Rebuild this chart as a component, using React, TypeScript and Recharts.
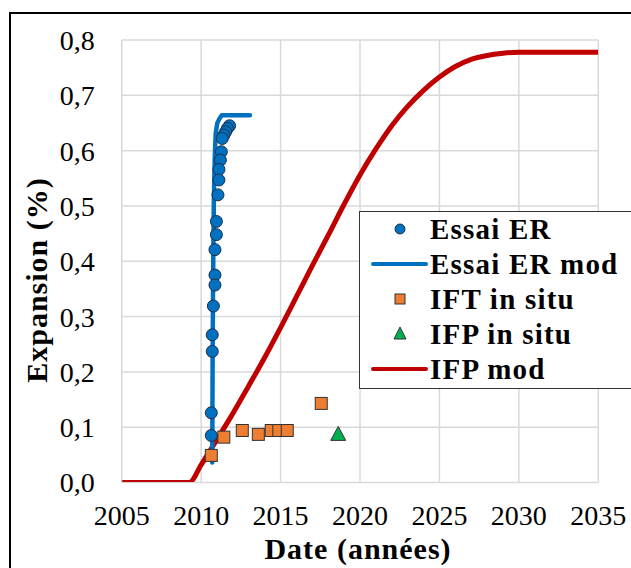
import { ComposedChart, Line, Scatter, XAxis, YAxis, CartesianGrid } from "recharts";

// Essai ER (lab test points)
const erYears = [2011.79, 2011.65, 2011.54, 2011.43, 2011.33, 2011.27, 2011.21, 2011.12, 2011.12, 2011.06,
    2010.96, 2010.96, 2010.87, 2010.87, 2010.87, 2010.77, 2010.7, 2010.7, 2010.64, 2010.64];
const erValues = [0.645, 0.64, 0.634, 0.628, 0.622, 0.598, 0.583, 0.566, 0.547, 0.52,
    0.472, 0.448, 0.421, 0.375, 0.357, 0.319, 0.267, 0.237, 0.126, 0.085];

// Essai ER mod (model curve)
const erModYears = [2010.7, 2010.72, 2010.75, 2010.8, 2010.86, 2010.92, 2011.02, 2011.16, 2011.3, 2013.07];
const erModValues = [0.036, 0.2, 0.36, 0.51, 0.59, 0.632, 0.65, 0.658, 0.664, 0.664];

// IFT in situ
const iftYears = [2010.64, 2011.43, 2012.59, 2013.6, 2014.41, 2014.89, 2015.42, 2017.56];
const iftValues = [0.049, 0.082, 0.094, 0.087, 0.094, 0.094, 0.094, 0.143];

// IFP in situ
const ifpYears = [2018.63];
const ifpValues = [0.087];

// IFP mod
const ifpModYears = [2005, 2009.25, 2010, 2011, 2012, 2013, 2014, 2015, 2016, 2017, 2018, 2019, 2020,
    2021, 2022, 2023, 2024, 2025, 2026, 2027, 2028, 2029, 2030, 2035];
const ifpModValues = [0, 0, 0.032, 0.078, 0.125, 0.175, 0.226, 0.28, 0.336, 0.392, 0.447, 0.503, 0.556,
    0.603, 0.645, 0.68, 0.709, 0.733, 0.752, 0.765, 0.772, 0.776, 0.778, 0.778];

const xTicks = [2005, 2010, 2015, 2020, 2025, 2030, 2035];
const yTicks = [0, 0.1, 0.2, 0.3, 0.4, 0.5, 0.6, 0.7, 0.8];

const zip = (xs: number[], ys: number[]) => xs.map((x, i) => ({ x, y: ys[i] }));

const BLUE = "#0070C0";
const ORANGE = "#ED7D31";
const GREEN = "#00B050";
const RED = "#C00000";
const GRID = "#d9d9d9";
const FONT = "Liberation Serif, Times New Roman, Tinos, DejaVu Serif, serif";

const Dot = (p: any) => <circle cx={p.cx} cy={p.cy} r={6} fill={BLUE} stroke="#1f2f4a" strokeWidth={1} />;
const Square = (p: any) => <rect x={p.cx - 6} y={p.cy - 6} width={12} height={12} fill={ORANGE} stroke="#333" strokeWidth={1} />;
const Tri = (p: any) => (
    <polygon points={`${p.cx},${p.cy - 8} ${p.cx - 7.5},${p.cy + 6} ${p.cx + 7.5},${p.cy + 6}`} fill={GREEN} stroke="#333" strokeWidth={1} />
);

const legendRows = [
    { label: "Essai ER", kind: "dot" },
    { label: "Essai ER mod", kind: "blueLine" },
    { label: "IFT in situ", kind: "square" },
    { label: "IFP in situ", kind: "tri" },
    { label: "IFP mod", kind: "redLine" },
];

function LegendIcon({ kind }: { kind: string }) {
    return (
        <svg width={60} height={20} style={{ display: "block" }}>
            {kind === "dot" && <circle cx={30} cy={10} r={5} fill={BLUE} stroke="#1f2f4a" strokeWidth={1} />}
            {kind === "blueLine" && <line x1={3} y1={10} x2={56} y2={10} stroke={BLUE} strokeWidth={4} strokeLinecap="round" />}
            {kind === "square" && <rect x={25} y={5} width={10} height={10} fill={ORANGE} stroke="#333" strokeWidth={1} />}
            {kind === "tri" && <polygon points="30,3 24,15 36,15" fill={GREEN} stroke="#333" strokeWidth={1} />}
            {kind === "redLine" && <line x1={3} y1={10} x2={56} y2={10} stroke={RED} strokeWidth={4} strokeLinecap="round" />}
        </svg>
    );
}

export default function App() {
    return (
        <div style={{ position: "absolute", left: 0, top: 0, width: 631, height: 568, overflow: "hidden", background: "#fff" }}>
            <div style={{ position: "absolute", left: 9, top: 12, width: 700, height: 700, border: "2px solid #000", boxSizing: "border-box" }} />
            <div style={{ position: "absolute", left: 0, top: 0 }}>
                <ComposedChart width={631} height={568} margin={{ top: 40, right: 32.7, left: 0, bottom: 55.5 }}>
                    <CartesianGrid stroke={GRID} strokeWidth={1.5} horizontalValues={yTicks} verticalValues={xTicks} />
                    <XAxis
                        type="number"
                        dataKey="x"
                        domain={[2005, 2035]}
                        ticks={xTicks}
                        allowDataOverflow
                        height={30}
                        stroke={GRID}
                        tickLine={false}
                        tickMargin={17}
                        tick={{ fill: "#000", fontSize: 28, fontFamily: FONT }}
                    />
                    <YAxis
                        type="number"
                        dataKey="y"
                        domain={[0, 0.8]}
                        ticks={yTicks}
                        allowDataOverflow
                        width={121.7}
                        stroke={GRID}
                        tickLine={false}
                        tickMargin={21}
                        tickFormatter={(v: number) => v.toFixed(1).replace(".", ",")}
                        tick={{ fill: "#000", fontSize: 28, fontFamily: FONT }}
                    />
                    <Line data={zip(ifpModYears, ifpModValues)} dataKey="y" type="monotone" stroke={RED} strokeWidth={5} dot={false} isAnimationActive={false} />
                    <Line data={zip(erModYears, erModValues)} dataKey="y" type="linear" stroke={BLUE} strokeWidth={4.5} strokeLinecap="round" strokeLinejoin="round" dot={false} isAnimationActive={false} />
                    <Scatter data={zip(erYears, erValues)} dataKey="y" shape={Dot} isAnimationActive={false} />
                    <Scatter data={zip(iftYears, iftValues)} dataKey="y" shape={Square} isAnimationActive={false} />
                    <Scatter data={zip(ifpYears, ifpValues)} dataKey="y" shape={Tri} isAnimationActive={false} />
                </ComposedChart>
            </div>
            <svg style={{ position: "absolute", left: 0, top: 0 }} width={631} height={568}>
                <text x={47} y={280} transform="rotate(-90 47 280)" textAnchor="middle" fontFamily={FONT} fontWeight="bold" fontSize={30} letterSpacing={1} fill="#000">
                    Expansion (%)
                </text>
                <text x={358} y={559} textAnchor="middle" fontFamily={FONT} fontWeight="bold" fontSize={30} letterSpacing={1} fill="#000">
                    Date (années)
                </text>
            </svg>
            <div style={{ position: "absolute", left: 359, top: 211, width: 300, height: 178, background: "#fff", border: "1.5px solid #333", boxSizing: "border-box" }}>
                <div style={{ marginTop: -1 }}>
                    {legendRows.map((r) => (
                        <div key={r.label} style={{ display: "flex", alignItems: "center", height: 35 }}>
                            <div style={{ width: 10 }} />
                            <LegendIcon kind={r.kind} />
                            <span style={{ fontFamily: FONT, fontWeight: "bold", fontSize: 29, letterSpacing: 1.2, lineHeight: "34px", color: "#000", whiteSpace: "nowrap" }}>{r.label}</span>
                        </div>
                    ))}
                </div>
            </div>
        </div>
    );
}
